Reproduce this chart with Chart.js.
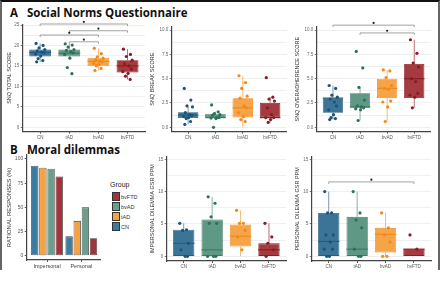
<!DOCTYPE html>
<html>
<head>
<meta charset="utf-8">
<script src="https://cdn.jsdelivr.net/npm/chart.js@4.4.1/dist/chart.umd.min.js"></script>
<style>
  body { margin: 0; width: 440px; height: 283px; background: #fff; position: relative; overflow: hidden; font-family: "Liberation Sans", Arial, sans-serif; }
  .frame { position: absolute; left: 0; top: 0; width: 436px; height: 268px; border-top: 2px solid #111; border-left: 2px solid #666; border-right: 2px solid #666; }
  .ttl { position: absolute; font: 700 11.5px "Open Sans", sans-serif; color: #111; white-space: nowrap; line-height: 11px; }
  canvas { position: absolute; }
  .lg-title { position: absolute; left: 110px; top: 181px; font-size: 7px; color: #222; }
  .lg-key { position: absolute; left: 111.5px; width: 6px; height: 7px; border: 0.8px solid #333; }
  .lg-lab { position: absolute; left: 121px; font-size: 5.5px; color: #333; line-height: 8px; }
</style>
</head>
<body>
<div class="frame"></div>
<div class="ttl" style="left:10px;top:7px">A</div>
<div class="ttl" style="left:27px;top:7px">Social Norms Questionnaire</div>
<div class="ttl" style="left:10px;top:144px">B</div>
<div class="ttl" style="left:27px;top:144px">Moral dilemmas</div>
<canvas id="snqTotal"></canvas>
<canvas id="snqBreak"></canvas>
<canvas id="snqOver"></canvas>
<canvas id="rational"></canvas>
<canvas id="impersonal"></canvas>
<canvas id="personal"></canvas>
<div id="legend"></div>
<script>
// groups shared by all box plots
const groups = ['CN', 'tAD', 'bvAD', 'bvFTD'];

// box stats per group: [lower whisker, q1, median, q3, upper whisker]
const totalStats = [[16.0, 17.3, 18.3, 19.0, 20.5], [16.9, 17.3, 18.1, 19.0, 20.4], [13.9, 14.9, 16.1, 17.0, 19.3], [11.7, 13.4, 15.0, 16.4, 19.1]];
const totalPoints = [
  [20.5, 20.0, 19.4, 19.0, 18.7, 18.4, 18.2, 17.9, 17.4, 16.8, 16.3, 16.0],
  [20.4, 20.1, 19.6, 19.0, 18.8, 18.5, 18.2, 17.8, 16.9, 14.6, 13.1],
  [19.3, 18.0, 17.2, 16.9, 16.5, 16.2, 16.0, 15.7, 15.3, 15.0, 14.4, 13.9],
  [19.1, 17.8, 17.3, 16.4, 15.5, 15.0, 14.2, 13.6, 13.2, 12.5, 11.7]
];
const totalTicks = [0, 5, 10, 15, 20, 25];
const totalTickLabels = ['0', '5', '10', '15', '20', '25'];
const totalBrackets = [[0, 3, 25.25], [1, 3, 23.6], [0, 2, 22.55], [1, 2, 20.9]];

const breakStats = [[0.3, 0.95, 1.25, 1.55, 2.1], [0.9, 0.95, 1.0, 1.4, 1.6], [0.0, 1.0, 2.0, 3.0, 5.3], [0.5, 1.0, 1.0, 2.5, 3.1]];
const breakPoints = [
  [4.0, 2.8, 2.2, 2.1, 1.5, 1.3, 1.2, 1.1, 1.0, 0.9, 0.6, 0.3],
  [2.3, 1.6, 1.4, 1.3, 1.25, 1.0, 1.0, 0.95, 0.9, 0.0],
  [5.3, 4.6, 4.0, 3.2, 3.0, 2.2, 2.0, 1.5, 1.1, 0.8, 0.6],
  [5.1, 3.1, 2.9, 2.7, 2.0, 1.3, 1.0, 1.0, 0.8, 0.5]
];
const overStats = [[0.8, 1.5, 3.0, 3.0, 4.3], [0.7, 2.0, 2.1, 3.5, 4.1], [0.6, 3.0, 4.0, 5.0, 5.9], [2.0, 3.0, 5.0, 6.5, 9.0]];
const overPoints = [
  [4.3, 4.0, 3.3, 3.1, 2.9, 2.6, 2.2, 1.8, 1.3, 1.0, 0.9, 0.8],
  [7.8, 6.1, 4.1, 2.8, 2.2, 2.1, 2.0, 1.9, 1.8, 0.7],
  [5.9, 5.8, 5.1, 4.3, 4.0, 3.9, 2.7, 2.6, 2.1, 0.6],
  [9.0, 7.6, 6.6, 6.2, 5.0, 4.7, 3.5, 3.3, 3.1, 2.0]
];
const overBrackets = [[0, 3, 10.5], [1, 3, 9.7]];
const scoreTicks = [0, 2.5, 5, 7.5, 10];
const scoreTickLabels = ['0.0', '2.5', '5.0', '7.5', '10.0'];

const impStats = [[0, 0, 2.0, 4.1, 5.1], [0, 0, 1.0, 5.7, 9.2], [0, 1.5, 3.1, 4.9, 7.1], [0, 0, 1.0, 2.0, 5.1]];
const impPoints = [
  [5.1, 4.1, 4.0, 2.0, 1.0, 0, 0],
  [9.2, 8.2, 6.1, 5.1, 5.1, 0, 0, 0],
  [7.1, 5.1, 5.1, 4.0, 3.0, 1.0],
  [5.1, 3.0, 2.0, 1.0, 0]
];
const perStats = [[0, 0, 2.3, 6.7, 10], [0, 0, 1.1, 6.1, 10], [0, 0.6, 3.4, 4.4, 6.7], [0, 0, 1.1, 1.1, 1.1]];
const perPoints = [
  [10, 6.7, 6.7, 3.3, 3.3, 2.2, 1.1, 1.1, 0, 0],
  [10, 6.7, 5.6, 4.4, 1.1, 0, 0],
  [6.7, 4.4, 3.3, 2.2, 0, 0],
  [3.3, 1.1]
];
const perBrackets = [[0, 3, 11.5]];
const gsrTicks = [0, 5, 10, 15];
const gsrTickLabels = ['0', '5', '10', '15'];

// rational responses (%)
const dilemmas = ['Impersonal', 'Personal'];
const barGroups = ['CN', 'tAD', 'bvAD', 'bvFTD'];
const rationalCN = [93, 20];
const rationalTAD = [91, 36];
const rationalBVAD = [90, 50];
const rationalBVFTD = [82, 18];
const rationalTicks = [0, 25, 50, 75, 100];

// styling
const boxFill = ['#3c7498', '#5f9985', '#f6a448', '#a53a41'];
const boxEdge = ['#285d80', '#3f7a66', '#ee8a24', '#871f27'];
const whiskerCol = ['#6f9bb8', '#88b3a3', '#f7b874', '#bd6a70'];
const pointCol = ['#1d5479', '#2e7158', '#f2891a', '#8a1b22'];
const barCol = ['#3d7ca1', '#f7a240', '#6a9f8b', '#a4343b'];
const jitter = [-0.14, 0.1, -0.04, 0.16, -0.1, 0.05, 0.13, -0.16, 0.02, -0.07, 0.09, -0.12];

Chart.defaults.font.family = '"Liberation Sans", Arial, sans-serif';
Chart.defaults.color = '#555';

const boxParts = {
  id: 'boxParts',
  beforeDatasetDraw(chart, args) {
    const ds = chart.data.datasets[args.index];
    if (!ds.stats) return;
    const y = chart.scales.y, ctx = chart.ctx;
    ctx.save();
    ctx.lineWidth = 1;
    args.meta.data.forEach((el, i) => {
      const s = ds.stats[i];
      ctx.strokeStyle = whiskerCol[i];
      ctx.beginPath();
      ctx.moveTo(el.x, y.getPixelForValue(s[0]));
      ctx.lineTo(el.x, y.getPixelForValue(s[1]));
      ctx.moveTo(el.x, y.getPixelForValue(s[3]));
      ctx.lineTo(el.x, y.getPixelForValue(s[4]));
      ctx.stroke();
    });
    ctx.restore();
  },
  afterDatasetDraw(chart, args) {
    const ds = chart.data.datasets[args.index];
    if (!ds.stats) return;
    const y = chart.scales.y, ctx = chart.ctx;
    ctx.save();
    ctx.lineWidth = 1.2;
    args.meta.data.forEach((el, i) => {
      const py = y.getPixelForValue(ds.stats[i][2]);
      ctx.strokeStyle = boxEdge[i];
      ctx.beginPath();
      ctx.moveTo(el.x - el.width / 2, py);
      ctx.lineTo(el.x + el.width / 2, py);
      ctx.stroke();
    });
    ctx.restore();
  },
  afterDraw(chart, args, opts) {
    const list = opts.brackets || [];
    const x = chart.scales.x, y = chart.scales.y, ctx = chart.ctx;
    ctx.save();
    list.forEach(([a, b, v]) => {
      const xa = x.getPixelForValue(a), xb = x.getPixelForValue(b), py = y.getPixelForValue(v);
      ctx.strokeStyle = '#8a8a8a';
      ctx.lineWidth = 0.8;
      ctx.beginPath();
      ctx.moveTo(xa, py + 2);
      ctx.lineTo(xa, py);
      ctx.lineTo(xb, py);
      ctx.lineTo(xb, py + 2);
      ctx.stroke();
      ctx.fillStyle = '#222';
      ctx.beginPath();
      ctx.arc((xa + xb) / 2, py - 2.2, 1.1, 0, Math.PI * 2);
      ctx.fill();
    });
    ctx.restore();
  }
};

function place(cv, pos) {
  cv.width = pos[2];
  cv.height = pos[3];
  cv.style.left = pos[0] + 'px';
  cv.style.top = pos[1] + 'px';
}

function gridValues(ticks) {
  const out = [];
  ticks.forEach((t, i) => {
    out.push(t);
    if (i < ticks.length - 1) out.push((t + ticks[i + 1]) / 2);
  });
  return out;
}

function boxChart(id, pos, area, titleX, o) {
  const cv = document.getElementById(id);
  place(cv, pos);
  const points = o.points.flatMap((arr, g) => arr.map((v, k) => ({ x: g + jitter[k % jitter.length], y: v })));
  const colors = o.points.flatMap((arr, g) => arr.map(() => pointCol[g]));
  const grid = gridValues(o.ticks);
  return new Chart(cv, {
    type: 'bar',
    data: {
      datasets: [
        { type: 'scatter', data: points, backgroundColor: colors, pointRadius: 1.6, borderWidth: 0, order: 0 },
        {
          type: 'bar',
          data: o.stats.map((s, i) => ({ x: i, y: [s[1], s[3]] })),
          stats: o.stats,
          backgroundColor: boxFill,
          borderColor: boxEdge,
          borderWidth: 0.8,
          borderSkipped: false,
          barPercentage: 0.75,
          categoryPercentage: 1,
          order: 1
        }
      ]
    },
    options: {
      responsive: false,
      animation: false,
      layout: { padding: { left: 0, top: area[1] - pos[1], right: pos[0] + pos[2] - area[2], bottom: 0 } },
      plugins: { legend: { display: false }, tooltip: { enabled: false }, boxParts: { brackets: o.brackets || [] } },
      scales: {
        x: {
          type: 'linear', min: -0.6, max: 3.6, offset: false,
          afterFit: (s) => { s.height = pos[1] + pos[3] - area[3]; },
          afterBuildTicks: (s) => { s.ticks = groups.map((g, i) => ({ value: i })); },
          ticks: { callback: (v) => groups[v], font: { size: 4.5 }, color: '#555', padding: 1.5, maxRotation: 0, autoSkip: false },
          grid: { drawOnChartArea: false, offset: false, tickLength: 2, color: '#555' },
          border: { color: '#444', width: 1.2 }
        },
        y: {
          min: o.min, max: o.max,
          afterFit: (s) => { s.width = area[0] - pos[0]; },
          afterBuildTicks: (s) => { s.ticks = grid.map((v) => ({ value: v })); },
          ticks: {
            autoSkip: false, font: { size: 4.5 }, color: '#666', padding: 1.5,
            callback: (v) => { const k = o.ticks.indexOf(v); return k >= 0 ? o.labels[k] : ''; }
          },
          grid: {
            color: '#ebebeb', lineWidth: 0.8, tickLength: 2,
            tickColor: (c) => (o.ticks.includes(c.tick && c.tick.value) ? '#555' : 'rgba(0,0,0,0)')
          },
          border: { color: '#444', width: 1.2 },
          title: { display: true, text: o.title, font: { size: 5.5 }, color: '#333', padding: { top: titleX - pos[0] - 3.3, bottom: 0 } }
        }
      }
    },
    plugins: [boxParts]
  });
}

boxChart('snqTotal', [0, 14, 150, 130], [22.7, 24.2, 145, 131.7], 9.5,
  { stats: totalStats, points: totalPoints, min: -1.08, max: 25.2, ticks: totalTicks, labels: totalTickLabels, brackets: totalBrackets, title: 'SNQ TOTAL SCORE' });
boxChart('snqBreak', [146, 14, 146, 130], [171.7, 26.7, 286.5, 131.7], 152.5,
  { stats: breakStats, points: breakPoints, min: -0.45, max: 10.34, ticks: scoreTicks, labels: scoreTickLabels, title: 'SNQ BREAK SCORE' });
boxChart('snqOver', [292, 14, 146, 130], [316.7, 26.7, 430.5, 131.7], 297.5,
  { stats: overStats, points: overPoints, min: -0.45, max: 10.34, ticks: scoreTicks, labels: scoreTickLabels, brackets: overBrackets, title: 'SNQ OVERADHERENCE SCORE' });
boxChart('impersonal', [146, 150, 146, 128], [166.7, 156.7, 286, 261], 152.5,
  { stats: impStats, points: impPoints, min: -0.73, max: 15.4, ticks: gsrTicks, labels: gsrTickLabels, title: 'IMPERSONAL DILEMMA GSR PPM' });
boxChart('personal', [292, 150, 146, 128], [311.7, 156.7, 431, 261], 297.5,
  { stats: perStats, points: perPoints, min: -0.73, max: 15.4, ticks: gsrTicks, labels: gsrTickLabels, brackets: perBrackets, title: 'PERSONAL DILEMMA GSR PPM' });

// grouped bar chart
(function () {
  const pos = [0, 150, 108, 128], area = [26.7, 155, 100, 260];
  const cv = document.getElementById('rational');
  place(cv, pos);
  const series = [rationalCN, rationalTAD, rationalBVAD, rationalBVFTD];
  new Chart(cv, {
    type: 'bar',
    data: {
      datasets: series.map((vals, g) => ({
        label: barGroups[g],
        data: vals.map((v, i) => ({ x: i, y: v })),
        backgroundColor: barCol[g],
        borderColor: '#3a3a3a',
        borderWidth: 0.8,
        borderSkipped: false,
        categoryPercentage: 0.95,
        barPercentage: 0.9
      }))
    },
    options: {
      responsive: false,
      animation: false,
      layout: { padding: { left: 0, top: area[1] - pos[1], right: pos[0] + pos[2] - area[2], bottom: 0 } },
      plugins: { legend: { display: false }, tooltip: { enabled: false } },
      scales: {
        x: {
          type: 'linear', min: -0.592, max: 1.545, offset: false,
          afterFit: (s) => { s.height = pos[1] + pos[3] - area[3]; },
          afterBuildTicks: (s) => { s.ticks = dilemmas.map((d, i) => ({ value: i })); },
          ticks: { callback: (v) => dilemmas[v], font: { size: 5.5 }, color: '#444', padding: 1.5, maxRotation: 0, autoSkip: false },
          grid: { drawOnChartArea: false, offset: false, tickLength: 2, color: '#555' },
          border: { color: '#444', width: 1.2 }
        },
        y: {
          min: -4.45, max: 104.1,
          afterFit: (s) => { s.width = area[0] - pos[0]; },
          afterBuildTicks: (s) => { s.ticks = rationalTicks.map((v) => ({ value: v })); },
          ticks: { font: { size: 5 }, color: '#555', padding: 1.5 },
          grid: { drawOnChartArea: false, tickLength: 2, color: '#555' },
          border: { color: '#444', width: 1.2 },
          title: { display: true, text: 'RATIONAL RESPONSES (%)', font: { size: 6 }, color: '#333', padding: { top: 9.5 - 3.6, bottom: 0 } }
        }
      }
    }
  });

  // legend (reverse order, as in the figure)
  const lg = document.getElementById('legend');
  let html = '<div class="lg-title">Group</div>';
  barGroups.slice().reverse().forEach((g, k) => {
    const idx = barGroups.indexOf(g);
    const top = 192.3 + k * 10;
    html += `<div class="lg-key" style="top:${top}px;background:${barCol[idx]}"></div>`;
    html += `<div class="lg-lab" style="top:${top + 0.5}px">${g}</div>`;
  });
  lg.innerHTML = html;
})();
</script>
</body>
</html>
